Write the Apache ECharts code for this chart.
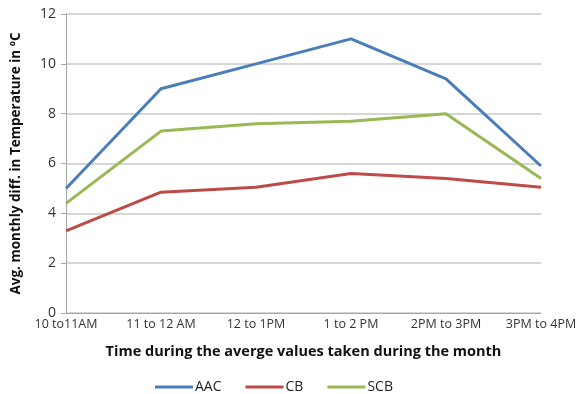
<!DOCTYPE html>
<html>
<head>
<meta charset="utf-8">
<script src="https://cdn.jsdelivr.net/npm/echarts@6/dist/echarts.min.js"></script>
<style>
  html, body { margin: 0; padding: 0; background: #ffffff; }
  #chart { width: 581px; height: 394px; }
</style>
</head>
<body>
<div id="chart"></div>
<script>
// Time slots along the x axis
const timeSlots = ['10 to11AM', '11 to 12 AM', '12 to 1PM', '1 to 2 PM', '2PM to 3PM', '3PM to 4PM'];

// Average monthly temperature difference (°C) per roof type
const aacValues = [5.0, 9.0, 10.0, 11.0, 9.4, 5.9];
const cbValues  = [3.3, 4.85, 5.05, 5.6, 5.4, 5.05];
const scbValues = [4.4, 7.3, 7.6, 7.7, 8.0, 5.4];

const seriesNames = ['AAC', 'CB', 'SCB'];
const seriesColors = ['#4a7ebb', '#be4b48', '#98b954'];

const chart = echarts.init(document.getElementById('chart'));
const font = '"Open Sans", "Liberation Sans", sans-serif';

const mkLine = (name, data, color) => ({
  name, type: 'line', data,
  symbol: 'none',
  lineStyle: { color, width: 3 },
  itemStyle: { color },
  animation: false
});

chart.setOption({
  animation: false,
  grid: { left: 66, right: 40, top: 14, bottom: 81 },
  legend: {
    top: 375,
    left: 150,
    itemWidth: 38,
    itemHeight: 3,
    itemGap: 24,
    icon: 'rect',
    textStyle: { fontFamily: font, fontSize: 14, color: '#222', padding: [0, 0, 0, -3] },
    data: seriesNames
  },
  xAxis: {
    type: 'category',
    data: timeSlots,
    boundaryGap: false,
    name: 'Time during the averge values taken during the month',
    nameLocation: 'middle',
    nameGap: 31,
    nameTextStyle: { fontFamily: font, fontSize: 14.5, fontWeight: 'bold', color: '#111' },
    axisLine: { lineStyle: { color: '#a6a6a6', width: 1 } },
    axisTick: { show: false },
    axisLabel: { fontFamily: font, fontSize: 12.5, color: '#333', margin: 5, interval: 0 },
    splitLine: { show: false }
  },
  yAxis: {
    type: 'value',
    min: 0, max: 12, interval: 2,
    name: 'Avg. monthly diff. in Temperature in ºC',
    nameLocation: 'middle',
    nameGap: 43,
    nameTextStyle: { fontFamily: font, fontSize: 13.5, fontWeight: 'bold', color: '#111' },
    axisLine: { show: true, lineStyle: { color: '#a6a6a6', width: 1 } },
    axisTick: { show: true, length: 5, inside: false, lineStyle: { color: '#a6a6a6' } },
    axisLabel: { fontFamily: font, fontSize: 14, color: '#333', margin: 10 },
    splitLine: { lineStyle: { color: '#c8c8c8', width: 1.5 } }
  },
  series: [
    mkLine(seriesNames[0], aacValues, seriesColors[0]),
    mkLine(seriesNames[1], cbValues, seriesColors[1]),
    mkLine(seriesNames[2], scbValues, seriesColors[2])
  ]
});
</script>
</body>
</html>
